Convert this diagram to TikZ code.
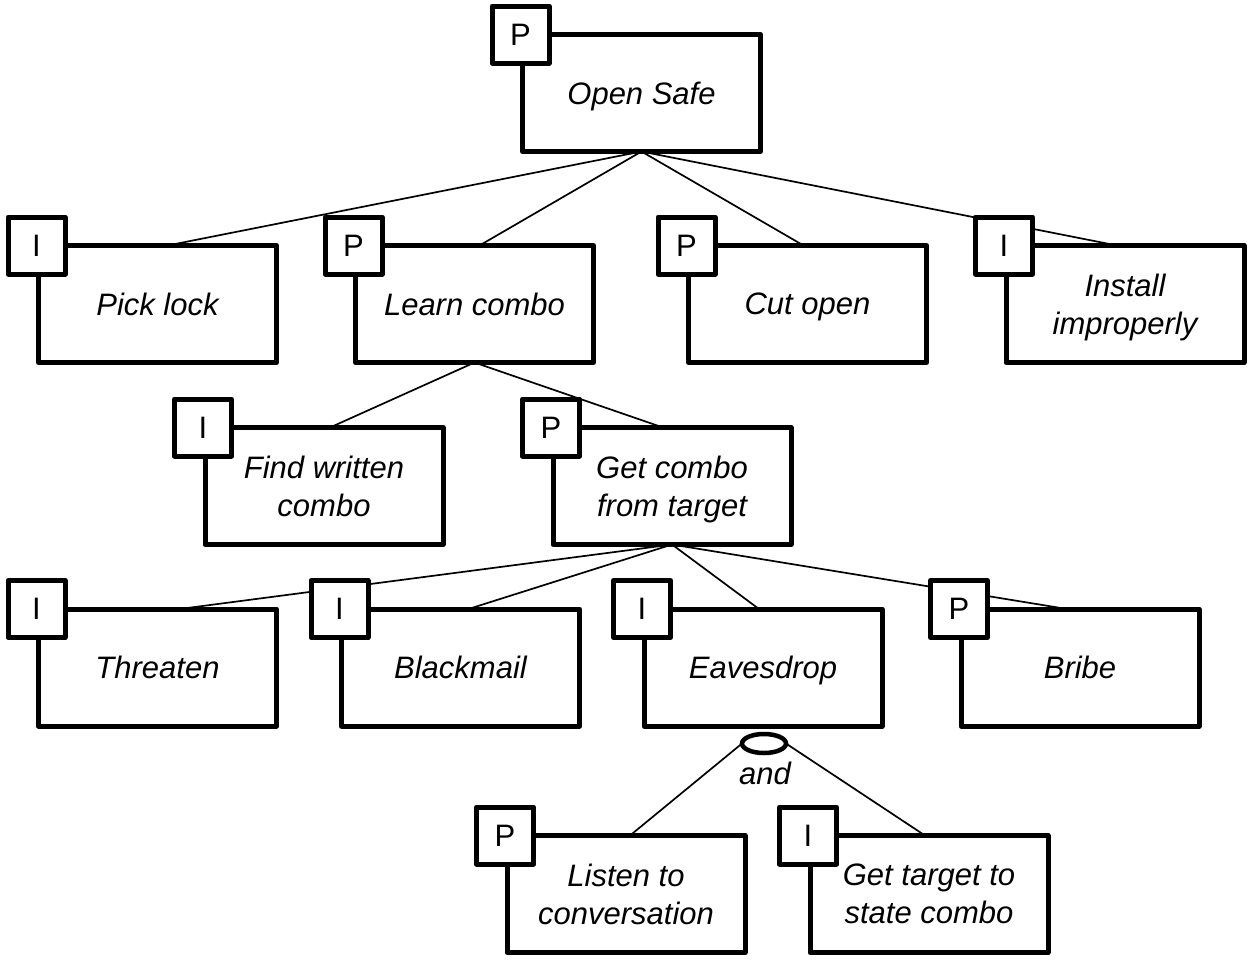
\documentclass[tikz,border=0pt]{standalone}
\usepackage{fontspec}
\setmainfont{Liberation Sans}
\usetikzlibrary{shapes.geometric,backgrounds}
\begin{document}
\begin{tikzpicture}[x=1pt,y=-1pt,
  goal/.style={draw, line width=5pt, line join=round, fill=white,
    minimum width=238pt, minimum height=117pt, inner sep=0pt, outer sep=0pt,
    align=center, text depth=0pt, font=\fontsize{31}{38}\selectfont\itshape},
  tag/.style={draw, line width=5pt, line join=round, fill=white,
    minimum size=57pt, inner sep=0pt, outer sep=0pt,
    font=\fontsize{31}{36}\selectfont},
  link/.style={line width=1.7pt},
  andgate/.style={ellipse, draw, line width=4.5pt, fill=white,
    minimum width=44pt, minimum height=19pt, inner sep=0pt, outer sep=0pt},
  andtext/.style={inner sep=0pt, font=\fontsize{31}{36}\selectfont\itshape}]
\useasboundingbox (0,0) rectangle (1249,959);

% goal boxes
\node[goal] (os)        at (641.5,93)   {Open Safe};
\node[goal] (pick)      at (157.5,304)  {Pick lock};
\node[goal] (learn)     at (474.5,304)  {Learn combo};
\node[goal] (cut)       at (807.5,304)  {Cut open};
\node[goal] (install)   at (1125,304)   {Install\\improperly};
\node[goal] (find)      at (324,486)    {Find written\\combo};
\node[goal] (getc)      at (672,486)    {Get combo\\from target};
\node[goal] (threaten)  at (157.5,667.5){Threaten};
\node[goal] (blackmail) at (460.5,667.5){Blackmail};
\node[goal] (eaves)     at (763,667.5)  {Eavesdrop};
\node[goal] (bribe)     at (1080,667.5) {Bribe};
\node[goal] (listen)    at (626,894)    {Listen to\\conversation};
\node[goal] (gett)      at (929,894)    {Get target to\\state combo};

% P / I tags on the top left corners
\node[tag] (os-t)        at ([xshift=-2pt]os.north west)        {P};
\node[tag] (pick-t)      at ([xshift=-2pt]pick.north west)      {I};
\node[tag] (learn-t)     at ([xshift=-2pt]learn.north west)     {P};
\node[tag] (cut-t)       at ([xshift=-2pt]cut.north west)       {P};
\node[tag] (install-t)   at ([xshift=-2pt]install.north west)   {I};
\node[tag] (find-t)      at ([xshift=-2pt]find.north west)      {I};
\node[tag] (getc-t)      at ([xshift=-2pt]getc.north west)      {P};
\node[tag] (threaten-t)  at ([xshift=-2pt]threaten.north west)  {I};
\node[tag] (blackmail-t) at ([xshift=-2pt]blackmail.north west) {I};
\node[tag] (eaves-t)     at ([xshift=-2pt]eaves.north west)     {I};
\node[tag] (bribe-t)     at ([xshift=-2pt]bribe.north west)     {P};
\node[tag] (listen-t)    at ([xshift=-2pt]listen.north west)    {P};
\node[tag] (gett-t)      at ([xshift=-2pt]gett.north west)      {I};

% AND decomposition under Eavesdrop
\node[andgate] (andgate) at (764,743.5) {};
\node[andtext] (andlbl)  at (765,773)   {and};

% connectors, drawn behind the boxes
\begin{pgfonlayer}{background}
  \draw[link] (os.south) -- ([xshift=10pt]pick.north);
  \draw[link] (os.south) -- ([xshift=5pt]learn.north);
  \draw[link] (os.south) -- ([xshift=-4pt]cut.north);
  \draw[link] (os.south) -- ([xshift=-8pt]install.north);
  \draw[link] (learn.south) -- ([xshift=6pt]find.north);
  \draw[link] (learn.south) -- ([xshift=-9pt]getc.north);
  \draw[link] (getc.south) -- ([xshift=22pt]threaten.north);
  \draw[link] (getc.south) -- ([xshift=8pt]blackmail.north);
  \draw[link] (getc.south) -- ([xshift=-4pt]eaves.north);
  \draw[link] (getc.south) -- ([xshift=-13pt]bribe.north);
  \draw[link] (andgate.west) -- ([xshift=4pt]listen.north);
  \draw[link] (andgate.east) -- ([xshift=-4pt]gett.north);
\end{pgfonlayer}
\end{tikzpicture}
\end{document}
